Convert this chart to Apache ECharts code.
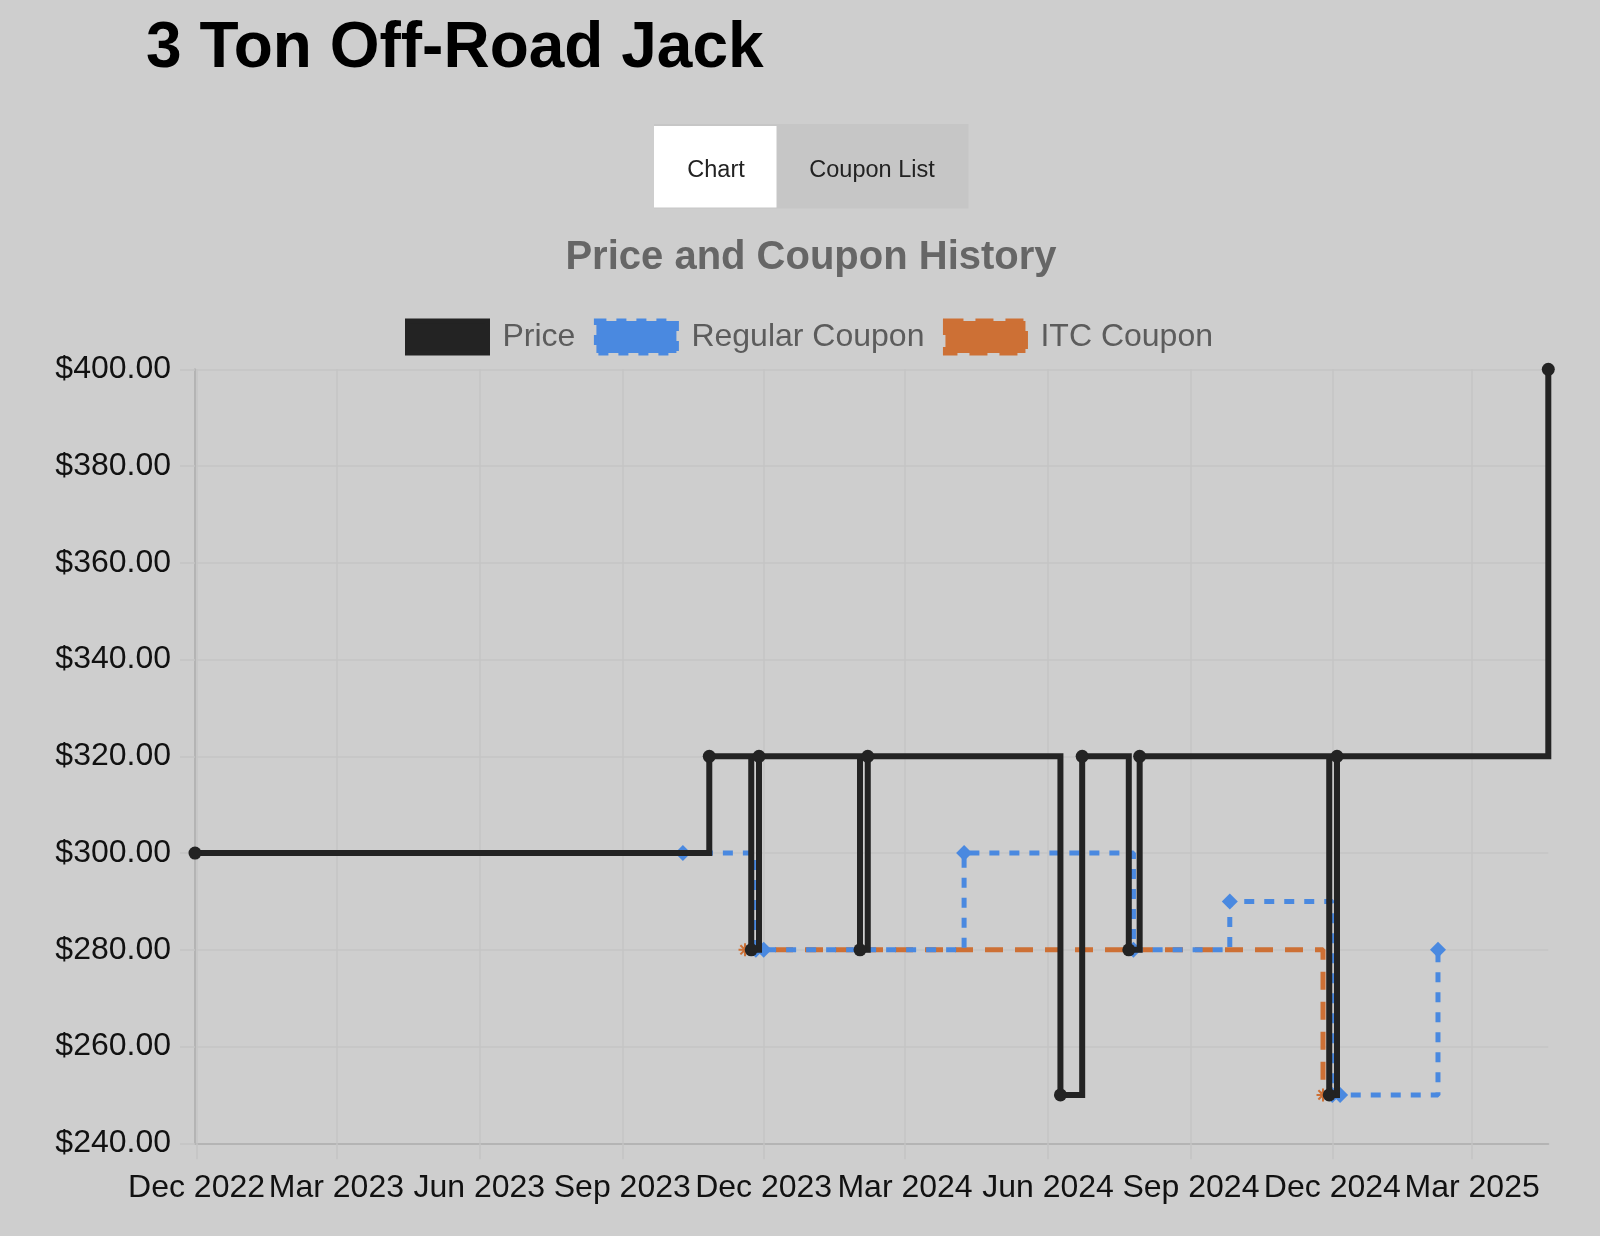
<!DOCTYPE html>
<html>
<head>
<meta charset="utf-8">
<script src="https://cdn.jsdelivr.net/npm/echarts@6/dist/echarts.min.js"></script>
<style>
  html, body { margin: 0; padding: 0; background: #cecece; }
  #chart { width: 1600px; height: 1236px; }
</style>
</head>
<body>
<div id="chart"></div>
<script>
// ---- data ----
const priceDates  = ['2022-11-30','2023-10-27','2023-11-23','2023-11-28','2024-02-01','2024-02-06','2024-06-09','2024-06-23','2024-07-23','2024-07-30','2024-11-29','2024-12-04','2025-04-19'];
const priceValues = [300, 320, 280, 320, 280, 320, 250, 320, 280, 320, 250, 320, 400];

const regularDates  = ['2023-10-10','2023-11-26','2023-12-01','2024-04-08','2024-07-26','2024-09-26','2024-12-01','2024-12-06','2025-02-07'];
const regularValues = [300, 280, 280, 300, 280, 290, 250, 250, 280];

const itcDates  = ['2023-11-19','2024-11-25'];
const itcValues = [280, 250];

const xTickDates  = ['2022-12-01','2023-03-01','2023-06-01','2023-09-01','2023-12-01','2024-03-01','2024-06-01','2024-09-01','2024-12-01','2025-03-01'];
const xTickLabels = ['Dec 2022','Mar 2023','Jun 2023','Sep 2023','Dec 2023','Mar 2024','Jun 2024','Sep 2024','Dec 2024','Mar 2025'];
const xMin = '2022-11-30', xMax = '2025-04-19';
const yMin = 240, yMax = 400, yStep = 20;

const seriesNames = ['Price', 'Regular Coupon', 'ITC Coupon'];

// ---- build ----
const FONT = '"Liberation Sans", Arial, Helvetica, sans-serif';
const ts = s => echarts.number.parseDate(s).getTime();
const pair = (ds, vs) => ds.map((d, i) => [ts(d), vs[i]]);
const tickTs = xTickDates.map(ts);
const labelMap = {};
tickTs.forEach((t, i) => { labelMap[t] = xTickLabels[i]; });

const C_PRICE = '#232323', C_REG = '#4a89e0', C_ITC = '#cd7035';
const GRID_C = '#c4c4c4', AXIS_C = '#b4b4b4';

const chart = echarts.init(document.getElementById('chart'), null, { renderer: 'canvas' });
chart.setOption({
  backgroundColor: '#cecece',
  animation: false,
  title: [
    { text: '3 Ton Off-Road Jack', left: 146, top: 49.5, padding: 0, textAlign: 'left', textVerticalAlign: 'middle',
      textStyle: { fontSize: 64, fontWeight: 'bold', color: '#000', fontFamily: FONT } },
    { text: 'Price and Coupon History', left: 811, top: 258, padding: 0, textAlign: 'center', textVerticalAlign: 'middle',
      textStyle: { fontSize: 40, fontWeight: 'bold', color: '#666', fontFamily: FONT } }
  ],
  graphic: [
    { type: 'rect', silent: true, shape: { x: 654, y: 124, width: 314.5, height: 84.5 }, style: { fill: '#c6c6c6' } },
    { type: 'rect', silent: true, shape: { x: 654, y: 126, width: 122.5, height: 81.5 }, style: { fill: '#ffffff' } },
    { type: 'text', silent: true, x: 716, y: 171, style: { text: 'Chart', fontSize: 23.5, fontFamily: FONT, fill: '#222', align: 'center', verticalAlign: 'middle' } },
    { type: 'text', silent: true, x: 872, y: 171, style: { text: 'Coupon List', fontSize: 23.5, fontFamily: FONT, fill: '#222', align: 'center', verticalAlign: 'middle' } }
  ],
  legend: {
    left: 405, top: 318.5, padding: 0, orient: 'horizontal',
    itemWidth: 80, itemHeight: 32, itemGap: 18.5, icon: 'rect', selectedMode: false,
    textStyle: { fontSize: 32, color: '#5c5c5c', fontFamily: FONT, padding: [0, 0, 0, 10], lineHeight: 32 },
    data: [
      { name: seriesNames[0], itemStyle: { color: C_PRICE, borderColor: C_PRICE, borderWidth: 5, borderType: 'solid' } },
      { name: seriesNames[1], itemStyle: { color: C_REG, borderColor: C_REG, borderWidth: 5, borderType: [10, 10] } },
      { name: seriesNames[2], itemStyle: { color: C_ITC, borderColor: C_ITC, borderWidth: 5, borderType: [18, 12] } }
    ]
  },
  grid: { left: 195, right: 51.7, top: 369.3, bottom: 92.7, containLabel: false, outerBoundsMode: 'none' },
  xAxis: {
    type: 'value', min: ts(xMin), max: ts(xMax), scale: true,
    axisLine: { show: true, lineStyle: { color: AXIS_C, width: 2 } },
    axisTick: { show: true, length: 16, customValues: tickTs, lineStyle: { color: GRID_C, width: 1.5 } },
    axisLabel: { show: true, customValues: tickTs, margin: 29, fontSize: 32, color: '#111', fontFamily: FONT,
      formatter: v => labelMap[v] || '' },
    splitLine: { show: true, lineStyle: { color: GRID_C, width: 1.5 } }
  },
  yAxis: {
    type: 'value', min: yMin, max: yMax, interval: yStep,
    axisLine: { show: true, lineStyle: { color: AXIS_C, width: 2 } },
    axisTick: { show: true, length: 15, lineStyle: { color: GRID_C, width: 1.5 } },
    axisLabel: { margin: 24, fontSize: 32, color: '#111', fontFamily: FONT, padding: [4, 0, 0, 0],
      formatter: v => '$' + v.toFixed(2) },
    splitLine: { show: true, lineStyle: { color: GRID_C, width: 1.5 } }
  },
  series: [
    {
      name: seriesNames[0], type: 'line', step: 'end', z: 5, clip: false,
      data: pair(priceDates, priceValues),
      symbol: 'circle', symbolSize: 13, showAllSymbol: true,
      itemStyle: { color: C_PRICE },
      lineStyle: { color: C_PRICE, width: 6, join: 'miter', cap: 'butt' }
    },
    {
      name: seriesNames[1], type: 'line', step: 'end', z: 4,
      data: pair(regularDates, regularValues),
      symbol: 'diamond', symbolSize: 16, showAllSymbol: true,
      itemStyle: { color: C_REG },
      lineStyle: { color: C_REG, width: 5, type: [10, 10], cap: 'butt' }
    },
    {
      name: seriesNames[2], type: 'line', step: 'end', z: 3,
      data: pair(itcDates, itcValues),
      symbol: 'path://M12 0 L12 24 M0 12 L24 12 M3.5 3.5 L20.5 20.5 M3.5 20.5 L20.5 3.5', symbolSize: 13, showAllSymbol: true,
      itemStyle: { color: 'rgba(0,0,0,0)', borderColor: C_ITC, borderWidth: 2 },
      lineStyle: { color: C_ITC, width: 5, type: [18, 12], cap: 'butt' }
    }
  ]
});
</script>
</body>
</html>
